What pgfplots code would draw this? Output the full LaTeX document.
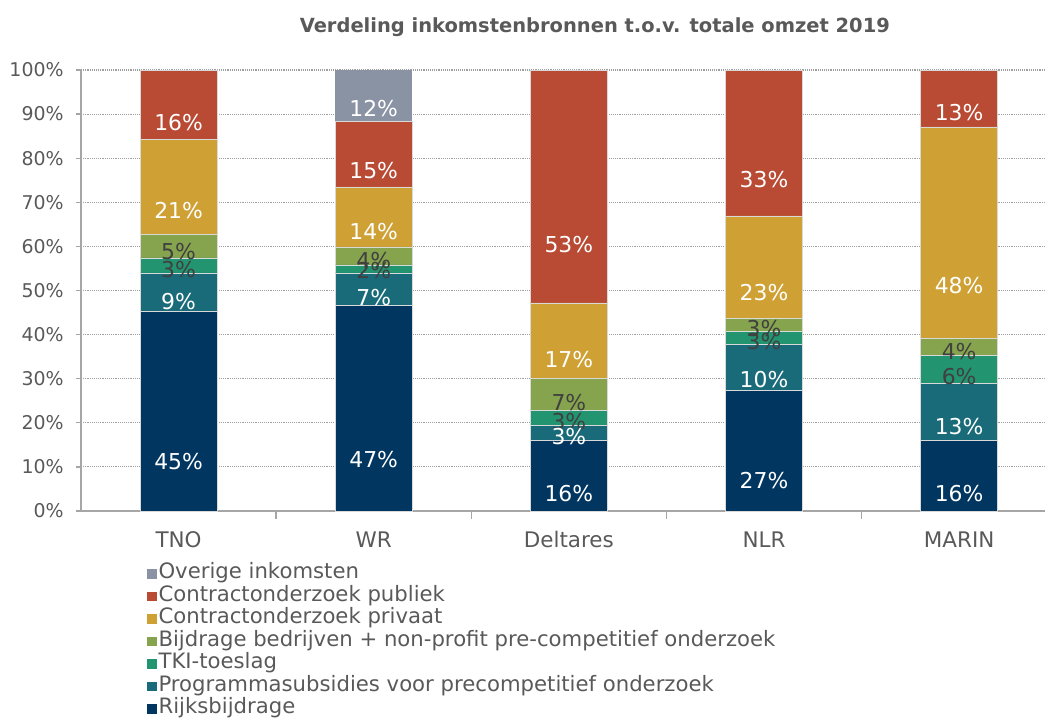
\documentclass[border=0pt]{standalone}
\usepackage{pgfplots}
\pgfplotsset{compat=1.18}
\usepackage{pgfplotstable}
\usepackage{fontspec}
\setmainfont{DejaVu Sans}
\definecolor{cOver}{HTML}{8A93A4}
\definecolor{cPub}{HTML}{B94A34}
\definecolor{cPriv}{HTML}{CFA034}
\definecolor{cBij}{HTML}{86A44E}
\definecolor{cTKI}{HTML}{22946F}
\definecolor{cProg}{HTML}{196B79}
\definecolor{cRijk}{HTML}{003660}
\definecolor{txt}{HTML}{595959}
\definecolor{dk}{HTML}{404040}
\definecolor{axc}{HTML}{A6A6A6}

\pgfplotstableread{
x rijks prog tki bij priv pub over
0 45.3 8.7 3.4 5.4 21.4 15.8 0
1 46.6 7.4 1.8 4.1 13.6 14.9 11.6
2 16.1 3.4 3.4 7.1 17.2 52.8 0
3 27.3 10.4 3.0 3.0 23.2 33.1 0
4 16.0 12.9 6.3 4.0 47.9 12.9 0
}\data

\begin{document}
\begin{tikzpicture}
\useasboundingbox (-60.75pt,-156pt) rectangle (724.5pt,383.25pt);
\begin{axis}[
  scale only axis, width=723pt, height=330.75pt,
  ybar stacked, bar width=57.75pt,
  xmin=-0.5, xmax=4.44, ymin=0, ymax=100,
  /pgf/number format/assume math mode=true,
  xtick={0,1,2,3,4},
  xticklabels={TNO,WR,Deltares,NLR,MARIN},
  minor xtick={0.5,1.5,2.5,3.5},
  major x tick style={draw=none},
  minor x tick style={draw=axc, line width=1pt},
  minor tick length=6pt,
  ytick={0,10,...,100},
  yticklabel={\pgfmathprintnumber{\tick}\%},
  ymajorgrids,
  grid style={densely dotted, draw=gray!75, line width=0.8pt},
  axis x line*=bottom, axis y line*=left,
  axis line style={draw=axc, line width=1pt, -},
  tick align=outside,
  major tick length=4pt,
  y tick style={draw=axc, line width=1pt},
  ticklabel style={text=txt},
  yticklabel style={font=\fontsize{14.2pt}{16pt}\selectfont, xshift=-5.5pt},
  xticklabel style={font=\fontsize{16.1pt}{18pt}\selectfont, yshift=-8pt, text height=11.5pt, text depth=3pt},
  title={\bfseries Verdeling inkomstenbronnen t.o.v. totale omzet 2019},
  title style={at={(rel axis cs:0.533,1.079)}, anchor=center, text=txt, font=\fontsize{14.6pt}{17pt}\selectfont},
  every axis plot/.append style={draw=white!85!black, line width=0.5pt},
  nodes near coords={\pgfmathfloatifflags{\pgfplotspointmeta}{0}{}{\pgfmathprintnumber[fixed,precision=0]{\pgfplotspointmeta}\%}},
  every node near coord/.append style={anchor=center, font=\fontsize{16.4pt}{18pt}\selectfont, shift={(axis direction cs:0,-\pgfplotspointmeta/4)}},
  reverse legend,
  legend cell align=left,
  legend style={at={(rel axis cs:0.064,-0.112)}, anchor=north west, draw=none, fill=none,
    font=\fontsize{15.9pt}{17pt}\selectfont, text=txt,
    nodes={inner sep=1.5pt, text height=10pt, text depth=3pt},
    row sep=0.9pt},
  legend image code/.code={\path[#1, draw=none] (0pt,-3.6pt) rectangle (7.2pt,3.6pt);},
]
\addplot[fill=cRijk, every node near coord/.append style={text=white}] table[x=x,y=rijks]{\data};
\addlegendentry{Rijksbijdrage}
\addplot[fill=cProg, every node near coord/.append style={text=white}] table[x=x,y=prog]{\data};
\addlegendentry{Programmasubsidies voor precompetitief onderzoek}
\addplot[fill=cTKI, every node near coord/.append style={text=dk}] table[x=x,y=tki]{\data};
\addlegendentry{TKI-toeslag}
\addplot[fill=cBij, every node near coord/.append style={text=dk}] table[x=x,y=bij]{\data};
\addlegendentry{Bijdrage bedrijven + non-profit pre-competitief onderzoek}
\addplot[fill=cPriv, every node near coord/.append style={text=white}] table[x=x,y=priv]{\data};
\addlegendentry{Contractonderzoek privaat}
\addplot[fill=cPub, every node near coord/.append style={text=white}] table[x=x,y=pub]{\data};
\addlegendentry{Contractonderzoek publiek}
\addplot[fill=cOver, draw=none, every node near coord/.append style={text=white}] table[x=x,y=over]{\data};
\addlegendentry{Overige inkomsten}
\end{axis}
\end{tikzpicture}
\end{document}
